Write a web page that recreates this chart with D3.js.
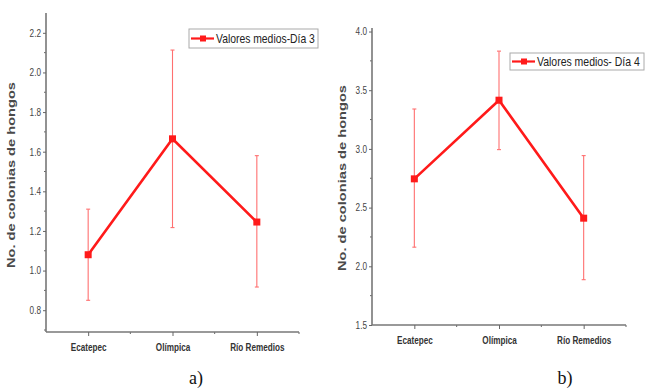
<!DOCTYPE html>
<html>
<head>
<meta charset="utf-8">
<script src="https://cdn.jsdelivr.net/npm/d3@7"></script>
<style>
  body { margin: 0; background: #fff; }
  svg { display: block; }
  text { font-family: "Liberation Sans", Arial, sans-serif; }
</style>
</head>
<body>
<svg id="chart" width="647" height="388"></svg>
<script>
const sites = ["Ecatepec", "Olímpica", "Río Remedios"];

// día 3
const mean3 = [1.08, 1.665, 1.245];
const upper3 = [1.31, 2.113, 1.58];
const lower3 = [0.85, 1.217, 0.917];
const ticks3 = [0.8, 1.0, 1.2, 1.4, 1.6, 1.8, 2.0, 2.2];

// día 4
const mean4 = [2.745, 3.415, 2.41];
const upper4 = [3.34, 3.833, 2.943];
const lower4 = [2.163, 2.994, 1.886];
const ticks4 = [1.5, 2.0, 2.5, 3.0, 3.5, 4.0];

const svg = d3.select("#chart");

drawPanel({
  left: 46, right: 299, top: 13, bottom: 332,
  domain: [0.69, 2.3], ticks: ticks3, minorStep: 0.1,
  mean: mean3, upper: upper3, lower: lower3,
  legend: "Valores medios-Día 3", legendBox: [189, 29, 129, 19], legendW: 99,
  labelX: 15, labelY: 175, caption: "a)", captionX: 196
});

drawPanel({
  left: 372, right: 626, top: 28, bottom: 325,
  domain: [1.5, 4.03], ticks: ticks4, minorStep: 0.25,
  mean: mean4, upper: upper4, lower: lower4,
  legend: "Valores medios- Día 4", legendBox: [510, 53, 134, 17], legendW: 103,
  labelX: 346, labelY: 178, caption: "b)", captionX: 565
});

// squeeze text horizontally, the original uses a narrow face
function narrow(sel, k) {
  sel.each(function() {
    const w = this.getComputedTextLength();
    d3.select(this).attr("textLength", w * k).attr("lengthAdjust", "spacingAndGlyphs");
  });
}

function drawPanel(p) {
  const g = svg.append("g");
  const x = d3.scalePoint().domain(sites).range([p.left, p.right]).padding(0.5);
  const y = d3.scaleLinear().domain(p.domain).range([p.bottom, p.top]);

  // minor ticks
  const minor = d3.range(Math.ceil(p.domain[0] / p.minorStep) * p.minorStep, p.domain[1], p.minorStep)
    .filter(v => !p.ticks.some(t => Math.abs(t - v) < 1e-6));
  g.selectAll(".ymin").data(minor).join("line")
    .attr("x1", p.left - 2).attr("x2", p.left)
    .attr("y1", d => y(d)).attr("y2", d => y(d))
    .attr("stroke", "#666").attr("stroke-width", 1);

  const step = x.step();
  const xmin = [p.left + step, p.left + step * 2, p.right];
  g.selectAll(".xmin").data(xmin).join("line")
    .attr("x1", d => d).attr("x2", d => d)
    .attr("y1", p.bottom).attr("y2", p.bottom + 2)
    .attr("stroke", "#666").attr("stroke-width", 1);

  const yAxis = g.append("g")
    .attr("transform", `translate(${p.left},0)`)
    .call(d3.axisLeft(y).tickValues(p.ticks).tickFormat(d3.format(".1f")).tickSize(3).tickPadding(2));
  yAxis.select(".domain").attr("stroke", "#777").attr("stroke-width", 1.6)
    .attr("d", `M0,${p.bottom}V${p.top}`);
  yAxis.selectAll(".tick line").attr("stroke", "#666");
  yAxis.selectAll(".tick text").attr("font-size", 10.5).attr("fill", "#444")
    .call(narrow, 0.78);

  const xAxis = g.append("g")
    .attr("transform", `translate(0,${p.bottom})`)
    .call(d3.axisBottom(x).tickSize(4).tickPadding(7));
  xAxis.select(".domain").attr("stroke", "#777").attr("stroke-width", 1.6)
    .attr("d", `M${p.left},0H${p.right}`);
  xAxis.selectAll(".tick line").attr("stroke", "#666");
  xAxis.selectAll(".tick text").attr("font-size", 11).attr("font-weight", "bold").attr("fill", "#333")
    .call(narrow, 0.74);

  // y label
  g.append("text")
    .attr("transform", `translate(${p.labelX},${p.labelY}) rotate(-90)`)
    .attr("text-anchor", "middle")
    .attr("font-size", 11.5).attr("font-weight", "bold").attr("fill", "#4a4a4a")
    .attr("textLength", 186).attr("lengthAdjust", "spacingAndGlyphs")
    .text("No. de colonias de hongos");

  // error bars
  const rows = sites.map((s, i) => ({ s, m: p.mean[i], hi: p.upper[i], lo: p.lower[i] }));
  const eb = g.append("g").attr("stroke", "#ff7070").attr("stroke-width", 1.1);
  eb.selectAll(".v").data(rows).join("line")
    .attr("x1", d => x(d.s)).attr("x2", d => x(d.s))
    .attr("y1", d => y(d.hi)).attr("y2", d => y(d.lo));
  eb.selectAll(".ct").data(rows).join("line")
    .attr("x1", d => x(d.s) - 2).attr("x2", d => x(d.s) + 2)
    .attr("y1", d => y(d.hi)).attr("y2", d => y(d.hi));
  eb.selectAll(".cb").data(rows).join("line")
    .attr("x1", d => x(d.s) - 2).attr("x2", d => x(d.s) + 2)
    .attr("y1", d => y(d.lo)).attr("y2", d => y(d.lo));

  const line = d3.line().x(d => x(d.s)).y(d => y(d.m));
  g.append("path").datum(rows)
    .attr("d", line).attr("fill", "none")
    .attr("stroke", "#ff1a1a").attr("stroke-width", 2.6);
  g.selectAll(".pt").data(rows).join("rect")
    .attr("x", d => x(d.s) - 3.5).attr("y", d => y(d.m) - 3.5)
    .attr("width", 7).attr("height", 7).attr("fill", "#ff1a1a");

  // legend
  const [lx, ly, lw, lh] = p.legendBox;
  const lg = g.append("g");
  lg.append("rect").attr("x", lx).attr("y", ly).attr("width", lw).attr("height", lh)
    .attr("fill", "#fff").attr("stroke", "#aaa").attr("stroke-width", 1);
  lg.append("line").attr("x1", lx + 2).attr("x2", lx + 25)
    .attr("y1", ly + lh / 2).attr("y2", ly + lh / 2)
    .attr("stroke", "#ff1a1a").attr("stroke-width", 2.2);
  lg.append("rect").attr("x", lx + 11).attr("y", ly + lh / 2 - 3)
    .attr("width", 6).attr("height", 6).attr("fill", "#ff1a1a");
  const lt = lg.append("text")
    .attr("font-size", 12.5).attr("fill", "#222")
    .text(p.legend);
  const k = p.legendW / lt.node().getComputedTextLength();
  lt.attr("transform", `translate(${lx + 27},${ly + lh / 2 + 4.5}) scale(${k},1)`);

  // caption (serif, set as style so the css rule doesn't win)
  g.append("text").attr("x", p.captionX).attr("y", 384)
    .attr("text-anchor", "middle")
    .style("font-family", "'Liberation Serif', 'Times New Roman', serif")
    .attr("font-size", 18).attr("fill", "#111")
    .text(p.caption);
}
</script>
</body>
</html>
